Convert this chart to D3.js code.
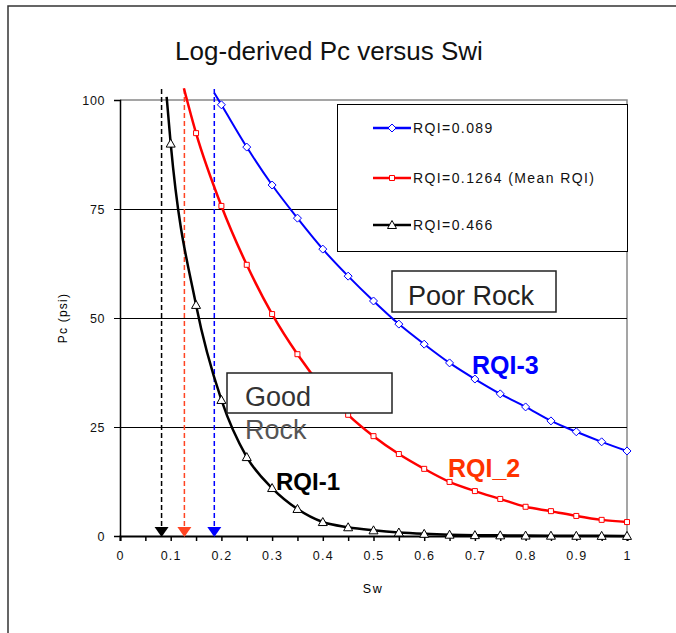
<!DOCTYPE html>
<html>
<head>
<meta charset="utf-8">
<script src="https://cdn.jsdelivr.net/npm/d3@7"></script>
<style>
    body { margin: 0; background: #fff; }
    text { font-family: Arial, "Liberation Sans", sans-serif; }
</style>
</head>
<body>
<script>
// series: Sw (fraction) vs Pc (psi)
var blueSw = [0.186, 0.2, 0.25, 0.3, 0.35, 0.4, 0.45, 0.5, 0.55, 0.6, 0.65, 0.7, 0.75, 0.8, 0.85, 0.9, 0.95, 1.0];
var bluePc = [101.6, 98.9, 89.2, 80.5, 72.9, 65.8, 59.6, 53.9, 48.6, 44.0, 39.7, 36.0, 32.6, 29.6, 26.4, 23.9, 21.6, 19.5];
var redSw = [0.126, 0.15, 0.2, 0.25, 0.3, 0.35, 0.4, 0.45, 0.5, 0.55, 0.6, 0.65, 0.7, 0.75, 0.8, 0.85, 0.9, 0.95, 1.0];
var redPc = [102.7, 92.4, 75.7, 62.2, 50.9, 41.7, 34.0, 27.8, 22.9, 18.8, 15.4, 12.4, 10.3, 8.5, 6.7, 5.7, 4.6, 3.7, 3.2];
var blackSw = [0.092, 0.1, 0.15, 0.2, 0.25, 0.3, 0.35, 0.4, 0.45, 0.5, 0.55, 0.6, 0.65, 0.7, 0.75, 0.8, 0.85, 0.9, 0.95, 1.0];
var blackPc = [100.7, 90, 53, 31.2, 18.1, 11.0, 6.2, 3.2, 2.0, 1.3, 0.8, 0.5, 0.3, 0.2, 0.15, 0.1, 0.07, 0.05, 0.03, 0.02];
var seriesNames = ["RQI=0.089", "RQI=0.1264 (Mean RQI)", "RQI=0.466"];
// irreducible water saturation arrows
var swiValues = [0.082, 0.127, 0.186];
var xTicks = [0, 0.1, 0.2, 0.3, 0.4, 0.5, 0.6, 0.7, 0.8, 0.9, 1];
var yTicks = [0, 25, 50, 75, 100];

var width = 676,
    height = 633,
    plotLeft = 120,
    plotRight = 627,
    plotTop = 100,
    plotBottom = 536;

var svg = d3.select("body")
    .append("svg")
    .attr("width", width)
    .attr("height", height);

var x = d3.scaleLinear().domain([0, 1]).range([plotLeft, plotRight]);
var y = d3.scaleLinear().domain([0, 100]).range([plotBottom, plotTop]);

//outer frame, runs off the right and bottom of the picture
svg.append("rect")
    .attr("x", 8)
    .attr("y", 6)
    .attr("width", 700)
    .attr("height", 700)
    .style("fill", "none")
    .style("stroke", "#333")
    .style("stroke-width", "1.5px");

svg.append("text")
    .attr("x", 329)
    .attr("y", 60)
    .attr("text-anchor", "middle")
    .style("font-size", "26px")
    .style("fill", "#111")
    .text("Log-derived Pc versus Swi");

//plot area border (grey) and gridlines
svg.append("path")
    .attr("d", "M" + plotLeft + "," + plotTop + "H" + plotRight + "V" + plotBottom)
    .style("fill", "none")
    .style("stroke", "#888")
    .style("stroke-width", "1.5px");

svg.selectAll(".grid")
    .data([25, 50, 75])
    .enter().append("line")
    .attr("x1", plotLeft)
    .attr("x2", plotRight)
    .attr("y1", function (d) { return y(d); })
    .attr("y2", function (d) { return y(d); })
    .style("stroke", "#000")
    .style("stroke-width", "1px")
    .style("shape-rendering", "crispEdges");

//axes
var xAxis = d3.axisBottom(x)
    .tickValues(d3.range(0, 1.0001, 0.05))
    .tickSize(5)
    .tickFormat(function (d) {
        var v = Math.round(d * 100) / 100;
        return xTicks.indexOf(v) >= 0 ? String(v) : "";
    });
var gx = svg.append("g")
    .attr("transform", "translate(0," + plotBottom + ")")
    .call(xAxis);
gx.select(".domain").style("stroke-width", "2px");
gx.selectAll("line").style("stroke-width", "1.5px");
gx.selectAll("text")
    .attr("dy", "1.25em")
    .style("font-size", "12.5px")
    .style("letter-spacing", "1.2px")
    .style("fill", "#111")
    .style("font-family", "Arial, 'Liberation Sans', sans-serif");

var yAxis = d3.axisLeft(y).tickValues(yTicks).tickSize(6).tickPadding(9);
var gy = svg.append("g")
    .attr("transform", "translate(" + plotLeft + ",0)")
    .call(yAxis);
gy.select(".domain").style("stroke-width", "1.5px");
gy.selectAll("line").style("shape-rendering", "crispEdges");
gy.selectAll("text")
    .style("font-size", "12.5px")
    .style("letter-spacing", "0.6px")
    .style("fill", "#111")
    .style("font-family", "Arial, 'Liberation Sans', sans-serif");

svg.append("text")
    .attr("transform", "translate(67,318) rotate(-90)")
    .attr("text-anchor", "middle")
    .style("font-size", "12px")
    .style("letter-spacing", "1.2px")
    .text("Pc (psi)");

svg.append("text")
    .attr("x", 373)
    .attr("y", 593)
    .attr("text-anchor", "middle")
    .style("font-size", "12.5px")
    .style("letter-spacing", "1.5px")
    .text("Sw");

//dashed swi lines with arrow heads on the axis
var swiColors = ["#000", "#ff4422", "#0000ff"];
swiValues.forEach(function (s, i) {
    svg.append("line")
        .attr("x1", x(s)).attr("x2", x(s))
        .attr("y1", 89).attr("y2", 528)
        .style("stroke", swiColors[i])
        .style("stroke-width", "1.5px")
        .style("stroke-dasharray", "5,3");
    svg.append("path")
        .attr("d", "M" + (x(s) - 7) + ",527 L" + (x(s) + 7) + ",527 L" + x(s) + ",537 Z")
        .style("fill", swiColors[i]);
});

//curves
var series = [
    { sw: blueSw, pc: bluePc, color: "#0000ff", width: 2, marker: "diamond" },
    { sw: redSw, pc: redPc, color: "#ff0000", width: 2.5, marker: "square" },
    { sw: blackSw, pc: blackPc, color: "#000", width: 2.5, marker: "triangle" }
];

var line = d3.line()
    .x(function (d) { return x(d[0]); })
    .y(function (d) { return y(d[1]); })
    .curve(d3.curveMonotoneX);

var drawMarker = function (g, type, cx, cy, color) {
    var d;
    if (type == "diamond") {
        d = "M" + cx + "," + (cy - 4) + "L" + (cx + 4) + "," + cy + "L" + cx + "," + (cy + 4) + "L" + (cx - 4) + "," + cy + "Z";
    } else if (type == "square") {
        d = "M" + (cx - 2.5) + "," + (cy - 2.5) + "h5v5h-5Z";
    } else {
        d = "M" + cx + "," + (cy - 4.5) + "L" + (cx + 4.5) + "," + (cy + 3.5) + "L" + (cx - 4.5) + "," + (cy + 3.5) + "Z";
    }
    g.append("path")
        .attr("d", d)
        .style("fill", "#fff")
        .style("stroke", color)
        .style("stroke-width", "1px");
};

series.forEach(function (s) {
    var pts = s.sw.map(function (v, i) { return [v, s.pc[i]]; });
    svg.append("path")
        .datum(pts)
        .attr("d", line)
        .style("fill", "none")
        .style("stroke", s.color)
        .style("stroke-width", s.width + "px");
    var g = svg.append("g");
    //first point is where the curve enters from the top, no marker there
    pts.slice(1).forEach(function (p) {
        drawMarker(g, s.marker, x(p[0]), y(p[1]), s.color);
    });
});

//legend
svg.append("rect")
    .attr("x", 337)
    .attr("y", 104)
    .attr("width", 290)
    .attr("height", 147)
    .style("fill", "#fff")
    .style("stroke", "#000")
    .style("stroke-width", "1px")
    .style("shape-rendering", "crispEdges");

var legendY = [128, 178, 225];
series.forEach(function (s, i) {
    var g = svg.append("g");
    g.append("line")
        .attr("x1", 373).attr("x2", 411)
        .attr("y1", legendY[i]).attr("y2", legendY[i])
        .style("stroke", s.color)
        .style("stroke-width", "2.5px");
    drawMarker(g, s.marker, 392, legendY[i], s.color);
    g.append("text")
        .attr("x", 413)
        .attr("y", legendY[i] + 5)
        .style("font-size", "14px")
        .style("letter-spacing", "1.4px")
        .style("fill", "#111")
        .text(seriesNames[i]);
});

//rock annotations
svg.append("rect")
    .attr("x", 392).attr("y", 271)
    .attr("width", 164).attr("height", 41)
    .style("fill", "#fff")
    .style("stroke", "#222")
    .style("stroke-width", "1.5px");
svg.append("text")
    .attr("x", 408).attr("y", 305)
    .style("font-size", "27px")
    .style("fill", "#222")
    .text("Poor Rock");

svg.append("rect")
    .attr("x", 227).attr("y", 373)
    .attr("width", 165).attr("height", 40)
    .style("fill", "#fff")
    .style("stroke", "#222")
    .style("stroke-width", "1.5px");
svg.append("text")
    .attr("x", 245).attr("y", 406)
    .style("font-size", "27px")
    .style("fill", "#333")
    .text("Good");
svg.append("text")
    .attr("x", 245).attr("y", 439)
    .style("font-size", "27px")
    .style("fill", "#555")
    .text("Rock");

//curve labels
var curveLabels = [
    { text: "RQI-3", x: 472, y: 374, color: "#0000ff", size: 25 },
    { text: "RQI_2", x: 448, y: 477, color: "#ff3300", size: 25 },
    { text: "RQI-1", x: 276, y: 490, color: "#000", size: 24 }
];
svg.selectAll(".clabel")
    .data(curveLabels)
    .enter().append("text")
    .attr("x", function (d) { return d.x; })
    .attr("y", function (d) { return d.y; })
    .style("font-size", function (d) { return d.size + "px"; })
    .style("font-weight", "700")
    .style("fill", function (d) { return d.color; })
    .text(function (d) { return d.text; });
</script>
</body>
</html>
